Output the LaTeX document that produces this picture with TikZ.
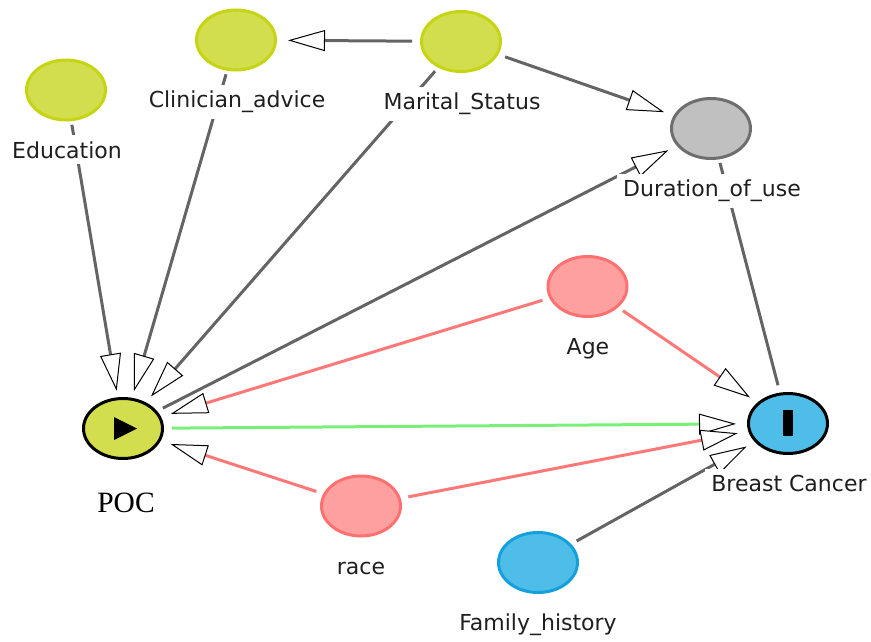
\documentclass[tikz,border=0pt]{standalone}
\usepackage{fontspec}
\setmainfont{DejaVu Sans}
\newfontfamily\pocfont{Liberation Serif}
\usetikzlibrary{shapes.geometric,arrows.meta}
\definecolor{gfill}{RGB}{210,222,78}
\definecolor{gline}{RGB}{197,213,20}
\definecolor{pfill}{RGB}{255,160,160}
\definecolor{pline}{RGB}{255,112,112}
\definecolor{grfill}{RGB}{192,192,192}
\definecolor{grline}{RGB}{110,110,110}
\definecolor{bfill}{RGB}{78,190,232}
\definecolor{bline}{RGB}{20,160,220}
\definecolor{egrey}{RGB}{100,100,100}
\definecolor{epink}{RGB}{255,120,120}
\definecolor{egreen}{RGB}{120,240,120}
\begin{document}
\begin{tikzpicture}[x=1pt,y=-1pt,
  hit/.style={ellipse, minimum width=98pt, minimum height=70pt, inner sep=0pt, outer sep=0pt},
  vis/.style={ellipse, minimum width=79pt, minimum height=60pt, inner sep=0pt, line width=3pt},
  greennode/.style={vis, fill=gfill, draw=gline},
  pinknode/.style={vis, fill=pfill, draw=pline},
  greynode/.style={vis, fill=grfill, draw=grline},
  bluenode/.style={vis, fill=bfill, draw=bline},
  lbl/.style={fill=white, inner sep=6pt, anchor=base, font=\fontsize{22}{26}\selectfont, text=black!88},
  arr/.style={line width=3pt, shorten >=3pt, -{Triangle[length=37pt,width=21pt,line width=1pt,color=black,fill=white]}},
  greyedge/.style={arr, draw=egrey},
  pinkedge/.style={arr, draw=epink},
  greenedge/.style={arr, draw=egreen},
  plainedge/.style={line width=3pt, draw=egrey, shorten >=4pt}
]
\useasboundingbox (0,0) rectangle (871,642);
% visible nodes
\node[greennode] (edu) at (66,90) {};
\node[greennode] (cli) at (236,40) {};
\node[greennode] (mar) at (461,41.5) {};
\node[greynode] (dur) at (711,128.5) {};
\node[pinknode] (age) at (587.5,286.5) {};
\node[pinknode] (race) at (361,506) {};
\node[bluenode] (fam) at (538,562.5) {};
\node[greennode, draw=black] (poc) at (123,428.5) {};
\node[bluenode, draw=black] (bc) at (788,423.5) {};
\fill (114,417) -- (137,428.5) -- (114,440) -- cycle;
\fill (783,410) rectangle (793,436);
% connection areas
\node[hit] (eduH) at (edu) {};
\node[hit] (cliH) at (cli) {};
\node[hit] (marH) at (mar) {};
\node[hit] (durH) at (dur) {};
\node[hit] (ageH) at (age) {};
\node[hit] (raceH) at (race) {};
\node[hit] (famH) at (fam) {};
\node[hit] (pocH) at (poc) {};
\node[hit] (bcH) at (bc) {};
% edges
\draw[greyedge] (eduH) -- (pocH);
\draw[greyedge] (cliH) -- (pocH);
\draw[greyedge] (marH) -- (pocH);
\draw[greyedge] (marH) -- (cliH);
\draw[greyedge] (marH) -- (durH);
\draw[greyedge] (pocH) -- (durH);
\draw[plainedge] (durH) -- (bcH);
\draw[pinkedge] (ageH) -- (pocH);
\draw[pinkedge] (ageH) -- (bcH);
\draw[greenedge] (pocH) -- (bcH);
\draw[pinkedge] (raceH) -- (pocH);
\draw[pinkedge] (raceH) -- (bcH);
\draw[greyedge] (famH) -- (bcH);
% labels
\node[lbl] (eduL) at (67,158) {Education};
\node[lbl] (cliL) at (237,108) {Clinician\_advice};
\node[lbl] (marL) at (462,109.5) {Marital\_Status};
\node[lbl] (durL) at (712,196.5) {Duration\_of\_use};
\node[lbl] (ageL) at (588,354.5) {Age};
\node[lbl] (bcL) at (789,491.5) {Breast Cancer};
\node[lbl] (raceL) at (361,574) {race};
\node[lbl] (famL) at (538,630.5) {Family\_history};
\node[lbl, font=\pocfont\fontsize{29.5}{32}\selectfont, text=black] (pocL) at (126,512) {POC};
\end{tikzpicture}
\end{document}
